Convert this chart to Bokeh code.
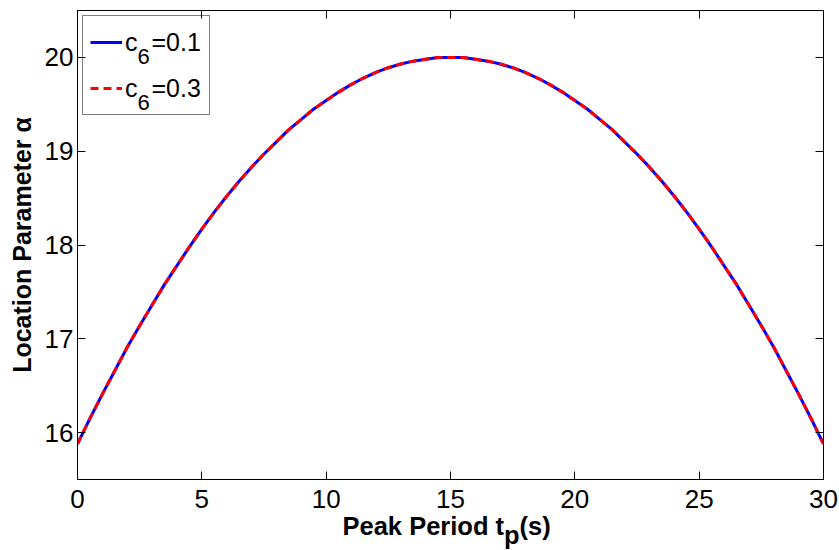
from bokeh.plotting import figure
from bokeh.models import Range1d, LinearAxis, FixedTicker, Label, Legend, LegendItem
from bokeh.layouts import column
from bokeh.embed import file_html
from bokeh.resources import INLINE

# Data
tp = [0, 0.5, 1, 1.5, 2, 2.5, 3, 3.5, 4, 4.5, 5, 5.5, 6, 6.5, 7, 7.5, 8, 8.5, 9, 9.5,
      10, 10.5, 11, 11.5, 12, 12.5, 13, 13.5, 14, 14.5, 15, 15.5, 16, 16.5, 17, 17.5,
      18, 18.5, 19, 19.5, 20, 20.5, 21, 21.5, 22, 22.5, 23, 23.5, 24, 24.5, 25, 25.5,
      26, 26.5, 27, 27.5, 28, 28.5, 29, 29.5, 30]
alpha_c01 = [15.88, 16.15, 16.41, 16.66, 16.91, 17.14, 17.36, 17.58, 17.78, 17.98,
             18.17, 18.35, 18.52, 18.68, 18.83, 18.97, 19.10, 19.23, 19.34, 19.45,
             19.54, 19.63, 19.71, 19.78, 19.84, 19.89, 19.93, 19.96, 19.98, 20.00,
             20.00,
             20.00, 19.98, 19.96, 19.93, 19.89, 19.84, 19.78, 19.71, 19.63, 19.54,
             19.45, 19.34, 19.23, 19.10, 18.97, 18.83, 18.68, 18.52, 18.35, 18.17,
             17.98, 17.78, 17.58, 17.36, 17.14, 16.91, 16.66, 16.41, 16.15, 15.88]
alpha_c03 = [15.88, 16.15, 16.41, 16.66, 16.91, 17.14, 17.36, 17.58, 17.78, 17.98,
             18.17, 18.35, 18.52, 18.68, 18.83, 18.97, 19.10, 19.23, 19.34, 19.45,
             19.54, 19.63, 19.71, 19.78, 19.84, 19.89, 19.93, 19.96, 19.98, 20.00,
             20.00,
             20.00, 19.98, 19.96, 19.93, 19.89, 19.84, 19.78, 19.71, 19.63, 19.54,
             19.45, 19.34, 19.23, 19.10, 18.97, 18.83, 18.68, 18.52, 18.35, 18.17,
             17.98, 17.78, 17.58, 17.36, 17.14, 16.91, 16.66, 16.41, 16.15, 15.88]
legend_main = ["c", "c"]
legend_sub = ["6", "6"]
legend_tail = ["=0.1", "=0.3"]
x_ticks = [0, 5, 10, 15, 20, 25, 30]
y_ticks = [16, 17, 18, 19, 20]
y_label = "Location Parameter \u03b1"
x_label_main = "Peak Period t"
x_label_sub = "p"
x_label_tail = "(s)"

FONT = "Liberation Sans"
MAIN_H = 512
FRAME_TOP, FRAME_BOTTOM, FRAME_LEFT = 10, 479, 77
# screen-unit origin for labels in the main plot (frame bottom-left, canvas px)
ORIGIN_X = FRAME_LEFT
ORIGIN_Y = FRAME_BOTTOM

p = figure(width=839, height=MAIN_H, x_range=Range1d(0, 30), y_range=Range1d(15.5, 20.5),
           output_backend="svg", toolbar_location=None,
           min_border_left=FRAME_LEFT, min_border_right=16, min_border_top=FRAME_TOP,
           min_border_bottom=MAIN_H - FRAME_BOTTOM)
p.background_fill_color = "white"
p.border_fill_color = "white"
p.outline_line_color = "black"
p.outline_line_width = 1
p.grid.visible = False

def style_axis(ax, ticks, show_labels=True):
    ax.ticker = FixedTicker(ticks=ticks)
    ax.major_tick_in = 8
    ax.major_tick_out = 0
    ax.minor_tick_in = 0
    ax.minor_tick_out = 0
    ax.axis_line_color = "black"
    ax.major_tick_line_color = "black"
    ax.major_label_text_font = FONT
    if show_labels:
        ax.major_label_text_font_size = "26px"
        ax.major_label_text_color = "black"
    else:
        ax.major_label_text_font_size = "0px"
        ax.major_label_text_color = None
        ax.major_label_standoff = 0

style_axis(p.xaxis[0], x_ticks)
p.xaxis[0].major_label_standoff = 10
style_axis(p.yaxis[0], y_ticks)
p.yaxis[0].major_label_standoff = 4
p.yaxis[0].axis_label = y_label
p.yaxis[0].axis_label_text_font = FONT
p.yaxis[0].axis_label_text_font_size = "25px"
p.yaxis[0].axis_label_text_font_style = "bold"
p.yaxis[0].axis_label_text_color = "black"
p.yaxis[0].axis_label_standoff = 6

top_ax = LinearAxis()
style_axis(top_ax, x_ticks, show_labels=False)
p.add_layout(top_ax, "above")
right_ax = LinearAxis()
style_axis(right_ax, y_ticks, show_labels=False)
p.add_layout(right_ax, "right")

r1 = p.line(tp, alpha_c01, line_color="#0000FF", line_width=3)
r2 = p.line(tp, alpha_c03, line_color="#FF0000", line_width=3, line_dash="8 5")

MARGIN, PAD, LH, SP, GW, STAND = 5, 7, 38, 8, 32, 3
legend = Legend(items=[LegendItem(label=legend_main[0], renderers=[r1]),
                       LegendItem(label=legend_main[1], renderers=[r2])],
                location="top_left", margin=MARGIN, padding=PAD, spacing=SP,
                label_height=LH, glyph_height=LH, glyph_width=GW, label_standoff=STAND,
                label_width=77,
                label_text_font=FONT, label_text_font_size="25px", label_text_color="black",
                border_line_color="black", border_line_width=1,
                background_fill_alpha=0)
p.add_layout(legend)

# subscript and tail parts of legend labels
leg_top = FRAME_TOP + MARGIN
text_cx = FRAME_LEFT + MARGIN + PAD + GW + STAND  # canvas x where "c" starts
for i in range(2):
    cy = leg_top + PAD + i * (LH + SP) + LH / 2  # canvas y of item centre
    p.add_layout(Label(x=text_cx + 13 - ORIGIN_X, y=ORIGIN_Y - (cy + 15), text=legend_sub[i],
                       x_units="screen", y_units="screen", text_font=FONT,
                       text_font_size="22px", text_color="black",
                       text_baseline="middle", text_align="left"))
    p.add_layout(Label(x=text_cx + 27 - ORIGIN_X, y=ORIGIN_Y - cy, text=legend_tail[i],
                       x_units="screen", y_units="screen", text_font=FONT,
                       text_font_size="25px", text_color="black",
                       text_baseline="middle", text_align="left"))

# x-axis label (with subscript) in a strip below the plot
strip_h = 550 - MAIN_H
p2 = figure(width=839, height=strip_h, x_range=Range1d(0, 839), y_range=Range1d(0, strip_h),
            output_backend="svg", toolbar_location=None, x_axis_type=None, y_axis_type=None,
            min_border=0)
p2.outline_line_color = None
p2.grid.visible = False
p2.background_fill_color = "white"
p2.border_fill_color = "white"
O2X = FRAME_LEFT   # observed origin of the strip's screen units
O2Y = 550 + 10
lab_kw = dict(x_units="screen", y_units="screen", text_font=FONT, text_font_size="25.5px",
              text_font_style="bold", text_color="black", text_baseline="alphabetic",
              text_align="left")
p2.add_layout(Label(x=342 - O2X, y=O2Y - 535, text=x_label_main, **lab_kw))
p2.add_layout(Label(x=503.5 - O2X, y=O2Y - 544, text=x_label_sub, **lab_kw))
p2.add_layout(Label(x=519 - O2X, y=O2Y - 535, text=x_label_tail, **lab_kw))

layout = column(p, p2, spacing=0)
open("out.html", "w").write(file_html(layout, INLINE))
